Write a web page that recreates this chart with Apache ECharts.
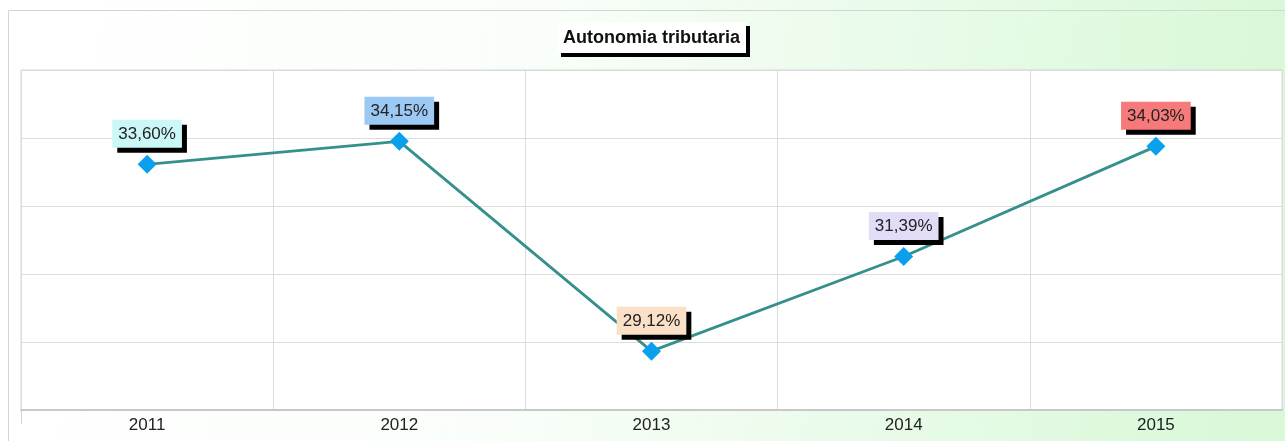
<!DOCTYPE html>
<html><head><meta charset="utf-8">
<script src="https://cdn.jsdelivr.net/npm/echarts@6/dist/echarts.min.js"></script>
<style>html,body{margin:0;padding:0;background:#fff}#c{width:1285px;height:441px}</style>
</head><body><div id="c"></div>
<script>
const categories = ['2011','2012','2013','2014','2015'];
const values = [33.60, 34.15, 29.12, 31.39, 34.03];
const labelTexts = ['33,60%','34,15%','29,12%','31,39%','34,03%'];
const labelColors = ['#ccf7f7','#9cc8f4','#fbe0c8','#e2dcf6','#f77a7a'];
const titleText = 'Autonomia tributaria';

const chart = echarts.init(document.getElementById('c'), null, {renderer:'canvas'});
const font = 'Liberation Sans, Arial, sans-serif';
chart.setOption({
  animation: false,
  backgroundColor: {
    type: 'linear', x: 0, y: 0, x2: 1, y2: 0.3,
    colorStops: [{offset: 0, color: '#ffffff'}, {offset: 0.4, color: '#fafefa'}, {offset: 1, color: '#d8f8d8'}]
  },
  graphic: [
    {type: 'rect', shape: {x: 8.5, y: 10.5, width: 1290, height: 440}, style: {fill: 'none', stroke: '#d4d4d4', lineWidth: 1}, z: -1},
    {type: 'line', shape: {x1: 21.5, y1: 410, x2: 21.5, y2: 424}, style: {stroke: '#d0d0d0', lineWidth: 1}}
  ],
  title: {
    text: titleText,
    left: 557, top: 22,
    backgroundColor: '#ffffff',
    borderWidth: 0,
    padding: [7, 6, 6, 6],
    shadowColor: '#000', shadowOffsetX: 4, shadowOffsetY: 4, shadowBlur: 0,
    textStyle: {fontFamily: font, fontSize: 18, fontWeight: 'bold', color: '#111'}
  },
  grid: {left: 21, right: 3, top: 70, bottom: 31, show: true, backgroundColor: '#ffffff', borderColor: '#d6d6d6', borderWidth: 1},
  xAxis: {
    type: 'category', data: categories, boundaryGap: true,
    axisLine: {lineStyle: {color: '#c8c8c8', width: 2}},
    axisTick: {show: false},
    axisLabel: {fontFamily: font, fontSize: 17, color: '#222', margin: 7},
    splitLine: {show: true, lineStyle: {color: '#dcdcdc', width: 1}}
  },
  yAxis: {
    type: 'value', min: 27.71, max: 35.86, interval: 1.63,
    axisLine: {show: false}, axisTick: {show: false}, axisLabel: {show: false},
    splitLine: {show: true, lineStyle: {color: '#dcdcdc', width: 1}}
  },
  series: [{
    type: 'line',
    data: values.map((v, i) => ({
      value: v,
      label: {backgroundColor: labelColors[i]}
    })),
    symbol: 'diamond', symbolSize: 19,
    itemStyle: {color: '#0ba0ee'},
    lineStyle: {color: '#35908b', width: 2.8},
    label: {
      show: true, position: 'top', distance: 7,
      formatter: p => labelTexts[p.dataIndex],
      fontFamily: font, fontSize: 17, color: '#222',
      padding: [6, 6, 5, 6],
      borderWidth: 0,
      shadowColor: '#000', shadowOffsetX: 5, shadowOffsetY: 5, shadowBlur: 0
    }
  }]
});
</script></body></html>
